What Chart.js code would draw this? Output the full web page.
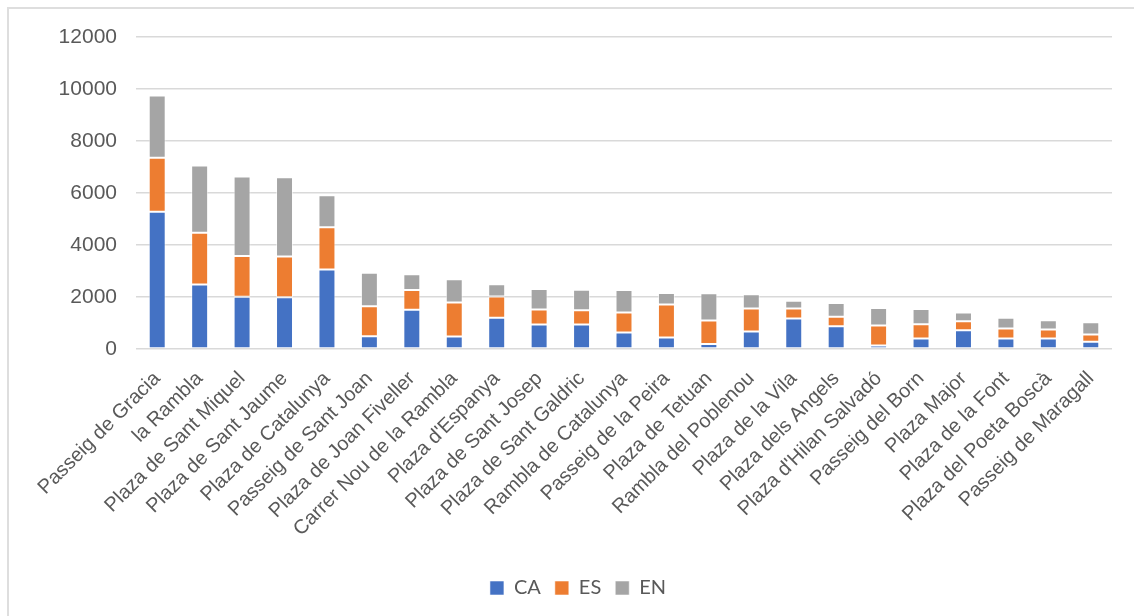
<!DOCTYPE html>
<html>
<head>
<meta charset="utf-8">
<script src="https://cdn.jsdelivr.net/npm/chart.js@4/dist/chart.umd.min.js"></script>
<style>
  html, body { margin: 0; padding: 0; background: #fff; }
  #wrap { position: relative; width: 1134px; height: 616px; overflow: hidden; }
  #frame {
    position: absolute; left: 7px; top: 7px; right: -10px; bottom: -10px;
    border-top: 2px solid #dedede; border-left: 2px solid #dedede;
  }
  #chart { position: absolute; left: 0; top: 0; }
</style>
</head>
<body>
<div id="wrap">
  <div id="frame"></div>
  <canvas id="chart" width="1134" height="616"></canvas>
</div>
<script>
const streets = [
  'Passeig de Gracia', 'la Rambla', 'Plaza de Sant Miquel', 'Plaza de Sant Jaume',
  'Plaza de Catalunya', 'Passeig de Sant Joan', 'Plaza de Joan Fiveller',
  'Carrer Nou de la Rambla', "Plaza d'Espanya", 'Plaza de Sant Josep',
  'Plaza de Sant Galdric', 'Rambla de Catalunya', 'Passeig de la Peira',
  'Plaza de Tetuan', 'Rambla del Poblenou', 'Plaza de la Vila', 'Plaza dels Angels',
  "Plaza d'Hilan Salvadó", 'Passeig del Born', 'Plaza Major', 'Plaza de la Font',
  'Plaza del Poeta Boscà', 'Passeig de Maragall'
];

// Catalan, Spanish and English counts per street
const caValues = [5280, 2480, 2005, 1990, 3060, 486, 1510, 476, 1200, 940, 940, 630, 438, 193, 670, 1173, 877, 130, 400, 722, 400, 400, 283];
const esValues = [2080, 1995, 1570, 1570, 1620, 1158, 760, 1315, 823, 580, 555, 775, 1276, 903, 890, 387, 361, 773, 555, 348, 387, 349, 271];
const enValues = [2390, 2585, 3060, 3050, 1235, 1288, 604, 890, 465, 787, 786, 865, 440, 1044, 541, 297, 528, 671, 580, 335, 413, 361, 478];

const yTicks = [0, 2000, 4000, 6000, 8000, 10000, 12000];

const textColor = '#595959';
const gridColor = '#d9d9d9';
const padLeft = 44;

function series(label, data, color) {
  return {
    label: label,
    data: data,
    backgroundColor: color,
    borderColor: 'rgba(255,255,255,0.55)',
    borderWidth: 1,
    borderSkipped: false,
    barPercentage: 0.4,
    categoryPercentage: 1.0
  };
}

const ctx = document.getElementById('chart').getContext('2d');
new Chart(ctx, {
  type: 'bar',
  data: {
    labels: streets,
    datasets: [
      series('CA', caValues, '#4472C4'),
      series('ES', esValues, '#ED7D31'),
      series('EN', enValues, '#A5A5A5')
    ]
  },
  options: {
    responsive: false,
    animation: false,
    devicePixelRatio: 1,
    layout: { padding: { left: padLeft, right: 22, top: 37, bottom: 8 } },
    plugins: {
      tooltip: { enabled: false },
      legend: {
        position: 'bottom',
        labels: {
          color: textColor,
          font: { family: 'Lato, "Liberation Sans", sans-serif', size: 20 },
          boxWidth: 14,
          boxHeight: 14,
          padding: 14
        }
      }
    },
    scales: {
      x: {
        stacked: true,
        grid: { display: false },
        border: { display: false },
        ticks: {
          color: textColor,
          font: { family: '"Liberation Sans", Arial, sans-serif', size: 20 },
          minRotation: 45,
          maxRotation: 45,
          autoSkip: false,
          padding: 10
        },
        afterFit: (scale) => { scale.height = 215; }
      },
      y: {
        stacked: true,
        min: 0,
        max: 12000,
        border: { display: false },
        grid: { color: gridColor, lineWidth: 1.5, drawTicks: false },
        afterBuildTicks: (scale) => { scale.ticks = yTicks.map(v => ({ value: v })); },
        ticks: {
          color: textColor,
          font: { family: '"Liberation Sans", Arial, sans-serif', size: 21 },
          padding: 19,
          callback: (value) => String(value)
        },
        afterFit: (scale) => { scale.width = 136 - padLeft; }
      }
    }
  }
});
</script>
</body>
</html>
